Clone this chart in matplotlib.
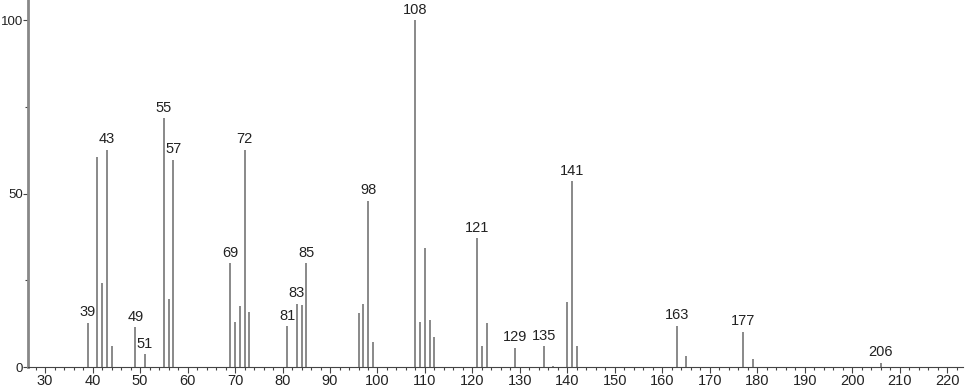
import matplotlib
matplotlib.use("Agg")
import matplotlib.pyplot as plt
from matplotlib.ticker import MultipleLocator

# m/z and relative intensity
mz = [39, 41, 42, 43, 44, 49, 51, 55, 56, 57,
      69, 70, 71, 72, 73, 81, 83, 84, 85,
      96, 97, 98, 99, 108, 109, 110, 111, 112,
      121, 122, 123, 129, 135, 137, 140, 141, 142,
      163, 165, 177, 179, 206]
intensity = [12.8, 60.6, 24.3, 62.7, 6.0, 11.4, 3.7, 71.7, 19.5, 59.7,
             29.9, 13.1, 17.6, 62.7, 15.9, 11.8, 18.2, 17.9, 29.9,
             15.6, 18.1, 47.9, 7.3, 100.0, 13.1, 34.4, 13.5, 8.7,
             37.1, 6.0, 12.8, 5.6, 6.0, 0.4, 18.8, 53.6, 6.0,
             11.9, 3.2, 10.2, 2.3, 1.2]
labelled = [39, 43, 49, 51, 55, 57, 69, 72, 81, 83, 85, 98, 108,
            121, 129, 135, 141, 163, 177, 206]

plt.rcParams['font.family'] = ['Liberation Sans', 'DejaVu Sans']

fig = plt.figure(figsize=(9.66, 3.89), dpi=100)
ax = fig.add_axes([28 / 966, 22 / 389, 935 / 966, 367 / 389])

ax.vlines(mz, 0, intensity, color='#6a6a6a', linewidth=1.1)
for m, h in zip(mz, intensity):
    if m in labelled:
        ax.text(m, h + 1.0, str(m), ha='center', va='bottom',
                fontsize=10.5, color='#222222')

ax.set_xlim(26.4, 223.3)
ax.set_ylim(0, 105.8)
ax.xaxis.set_major_locator(MultipleLocator(10))
ax.xaxis.set_minor_locator(MultipleLocator(2))
ax.yaxis.set_major_locator(MultipleLocator(50))
ax.yaxis.set_minor_locator(MultipleLocator(25))

for s in ['top', 'right']:
    ax.spines[s].set_visible(False)
ax.spines['left'].set_color('#888888')
ax.spines['left'].set_linewidth(2)
ax.spines['bottom'].set_color('#444444')
ax.spines['bottom'].set_linewidth(0.8)

ax.tick_params(axis='x', which='major', length=4, width=0.8, color='#444444',
               labelsize=10.5, labelcolor='#222222', pad=1)
ax.tick_params(axis='x', which='minor', length=2.5, width=0.8, color='#444444')
ax.tick_params(axis='y', which='major', length=3.5, width=0.8, color='#444444',
               labelsize=9.5, labelcolor='#222222', pad=0)
ax.tick_params(axis='y', which='minor', length=2.5, width=0.8, color='#444444')

fig.savefig('out.png', dpi=100)
